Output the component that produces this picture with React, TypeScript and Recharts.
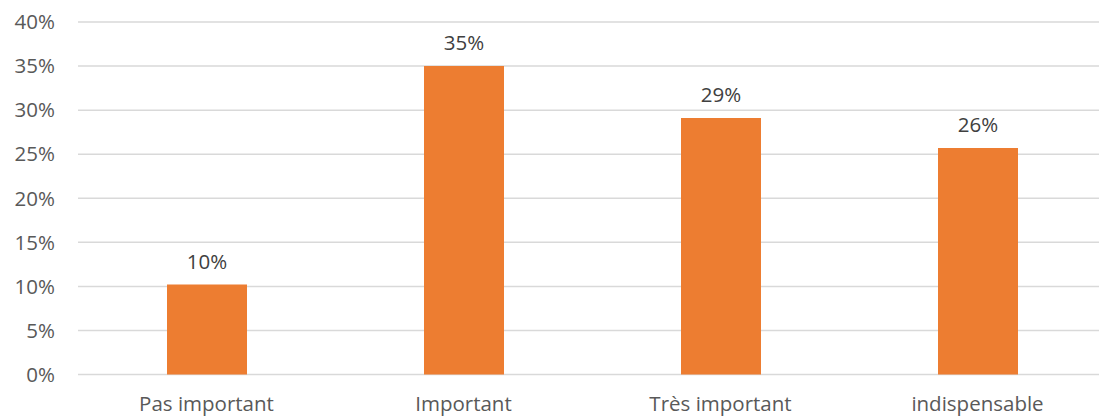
import React from 'react';
import { BarChart, Bar, XAxis, YAxis, CartesianGrid, LabelList } from 'recharts';

const categories = ['Pas important', 'Important', 'Très important', 'indispensable'];
const shares = [10.2, 35.0, 29.1, 25.7];
const yTicks = [0, 5, 10, 15, 20, 25, 30, 35, 40];

const data = categories.map((name, i) => ({ name, value: shares[i] }));

const font = '"Open Sans", sans-serif';

export default function App() {
  return (
    <div style={{ position: 'absolute', left: 0, top: 0, width: 1099, height: 416, overflow: 'hidden', background: '#fff' }}>
      <BarChart
        width={1110}
        height={416}
        data={data}
        margin={{ top: 22, right: 4, left: 8, bottom: 0 }}
      >
        <CartesianGrid vertical={false} stroke="#d9d9d9" strokeWidth={1.5} />
        <XAxis
          dataKey="name"
          axisLine={false}
          tickLine={false}
          height={41.5}
          tick={{ fontSize: 20.5, fill: '#595959', fontFamily: font }}
          tickMargin={16}
        />
        <YAxis
          domain={[0, 40]}
          ticks={yTicks}
          width={70}
          axisLine={false}
          tickLine={false}
          tickSize={0}
          tickMargin={23}
          tickFormatter={(v: number) => `${v}%`}
          tick={{ fontSize: 20.5, fill: '#595959', fontFamily: font }}
        />
        <Bar dataKey="value" fill="#ED7D31" barSize={80} isAnimationActive={false}>
          <LabelList
            dataKey="value"
            position="top"
            offset={16}
            formatter={(v: number) => `${Math.round(v)}%`}
            style={{ fontSize: 20.5, fill: '#404040', fontFamily: font }}
          />
        </Bar>
      </BarChart>
    </div>
  );
}
